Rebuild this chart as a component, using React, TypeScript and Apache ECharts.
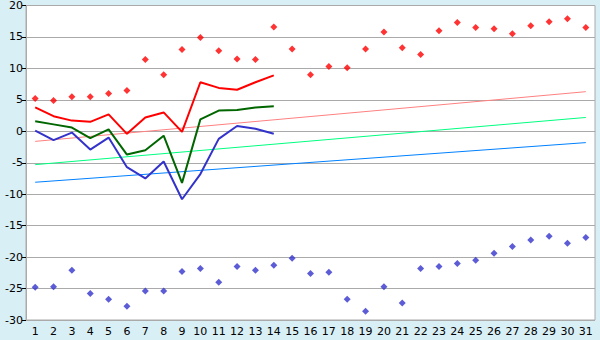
import React, { useEffect, useRef } from "react";
import * as echarts from "echarts";

const days = Array.from({ length: 31 }, (_, i) => String(i + 1));

const maxPoints = [5.2, 4.9, 5.5, 5.5, 6.0, 6.5, 11.4, 9.0, 13.0, 14.9, 12.8, 11.5, 11.4, 16.6, 13.1, 9.0, 10.3, 10.1, 13.1, 15.8, 13.3, 12.2, 16.0, 17.3, 16.5, 16.3, 15.5, 16.8, 17.4, 17.9, 16.5];
const minPoints = [-24.8, -24.7, -22.1, -25.8, -26.7, -27.8, -25.4, -25.4, -22.3, -21.8, -24.0, -21.5, -22.1, -21.3, -20.2, -22.6, -22.4, -26.7, -28.6, -24.7, -27.3, -21.8, -21.5, -21.0, -20.5, -19.4, -18.3, -17.3, -16.7, -17.8, -16.9];

const maxLine = [3.8, 2.4, 1.7, 1.5, 2.7, -0.4, 2.2, 3.0, -0.1, 7.8, 6.9, 6.6, 7.8, 8.9];
const meanLine = [1.6, 1.1, 0.6, -1.1, 0.3, -3.7, -3.0, -0.7, -8.2, 1.9, 3.3, 3.4, 3.8, 4.0];
const minLine = [0.1, -1.4, -0.2, -2.9, -1.0, -5.7, -7.5, -4.8, -10.8, -6.8, -1.2, 0.85, 0.4, -0.4];

const maxTrend = [-1.6, 6.3];
const meanTrend = [-5.3, 2.2];
const minTrend = [-8.1, -1.8];

const yTicks = { min: -30, max: 20, interval: 5 };

export default function App() {
  const ref = useRef<HTMLDivElement>(null);
  useEffect(() => {
    if (!ref.current) return;
    const chart = echarts.init(ref.current, undefined, { renderer: "svg" });
    const trend = (v: number[]) => [[0, v[0]], [days.length - 1, v[1]]];
    const font = { fontFamily: "DejaVu Sans", fontSize: 11, color: "#000" };
    chart.setOption({
      animation: false,
      backgroundColor: "#D9EFF6",
      grid: { left: 26, right: 5, top: 5, bottom: 20, show: true, backgroundColor: "#fff", borderColor: "#aaa", borderWidth: 1 },
      xAxis: {
        type: "category",
        data: days,
        boundaryGap: true,
        axisLine: { lineStyle: { color: "#aaa" } },
        axisTick: { alignWithLabel: true, length: 4, lineStyle: { color: "#000" } },
        axisLabel: { ...font, margin: 6, interval: 0 },
        splitLine: { show: false },
      },
      yAxis: {
        type: "value",
        min: yTicks.min,
        max: yTicks.max,
        interval: yTicks.interval,
        axisLine: { show: true, lineStyle: { color: "#aaa" } },
        axisTick: { show: true, length: 4, lineStyle: { color: "#000" } },
        axisLabel: { ...font, margin: 3 },
        splitLine: { lineStyle: { color: "#aaa" } },
      },
      series: [
        { type: "line", data: trend(maxTrend), symbol: "none", lineStyle: { color: "#FF8080", width: 1 }, z: 1 },
        { type: "line", data: trend(meanTrend), symbol: "none", lineStyle: { color: "#00FF80", width: 1 }, z: 1 },
        { type: "line", data: trend(minTrend), symbol: "none", lineStyle: { color: "#0080FF", width: 1 }, z: 1 },
        { type: "line", data: maxLine, symbol: "none", lineStyle: { color: "#FF0000", width: 2 }, z: 3 },
        { type: "line", data: meanLine, symbol: "none", lineStyle: { color: "#006600", width: 2 }, z: 3 },
        { type: "line", data: minLine, symbol: "none", lineStyle: { color: "#3333CC", width: 2 }, z: 3 },
        { type: "scatter", data: maxPoints, symbol: "diamond", symbolSize: 7, itemStyle: { color: "#FF0000" }, z: 4 },
        { type: "scatter", data: minPoints, symbol: "diamond", symbolSize: 7, itemStyle: { color: "#3333CC" }, z: 4 },
      ],
    });
    return () => chart.dispose();
  }, []);
  return <div ref={ref} style={{ width: 600, height: 340, position: "fixed", left: 0, top: 0 }} />;
}
